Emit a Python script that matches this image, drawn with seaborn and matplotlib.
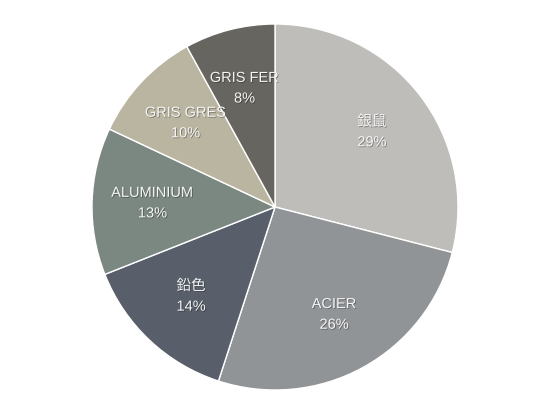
import matplotlib
matplotlib.use("Agg")
import matplotlib.pyplot as plt
import matplotlib.patheffects as pe
import seaborn as sns

# slice data, clockwise from 12 o'clock
names = ["銀鼠", "ACIER", "鉛色", "ALUMINIUM", "GRIS GRES", "GRIS FER"]
shares = [29, 26, 14, 13, 10, 8]
colors = ["#bebdb9", "#919497", "#585f6b", "#7b8881", "#bab5a0", "#67655f"]

sns.set_theme(style="white")
plt.rcParams['font.family'] = ['Liberation Sans', 'Noto Sans CJK JP', 'DejaVu Sans']

fig = plt.figure(figsize=(5.5, 4.13), dpi=100)
r_px = 183
ax = fig.add_axes([(275 - r_px) / 550, (413 - 207 - r_px) / 413, 2 * r_px / 550, 2 * r_px / 413])

idx = iter(range(len(names)))
def fmt(p):
    i = next(idx)
    return f"{names[i]}\n{shares[i]}%"

wedges, texts, autotexts = ax.pie(
    shares, colors=colors, startangle=90, counterclock=False,
    autopct=fmt, pctdistance=0.67, radius=1,
    wedgeprops=dict(edgecolor="white", linewidth=1.0),
)
for t in autotexts:
    t.set_color("#f6f6f6")
    t.set_fontsize(10.5)
    t.set_linespacing(1.6)
    t.set_path_effects([pe.withSimplePatchShadow(offset=(0.6, -0.6), shadow_rgbFace="black", alpha=0.35)])

ax.set_xlim(-1, 1)
ax.set_ylim(-1, 1)
ax.set_aspect("equal")
ax.axis("off")

fig.savefig("out.png", dpi=100, facecolor="white")
